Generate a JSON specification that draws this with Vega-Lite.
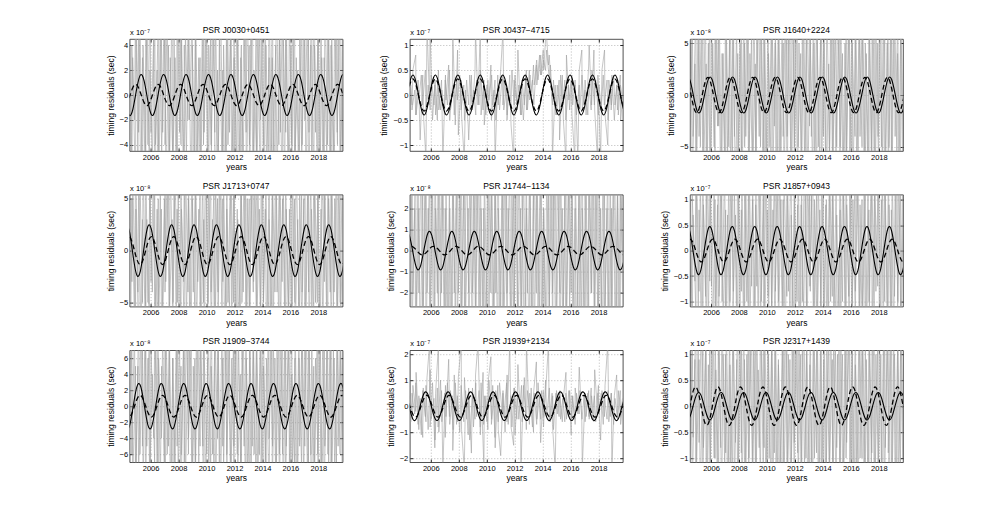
{
"$schema": "https://vega.github.io/schema/vega-lite/v6.json",
"autosize": {"type": "none"},
"padding": {"left": 129.6, "top": 39, "right": 867.4, "bottom": 481},
"background": "white",
"config": {
 "font": "Liberation Sans",
 "view": {"stroke": "#262626", "strokeWidth": 0.8},
 "axis": {"labelFont": "Liberation Sans", "titleFont": "Liberation Sans", "labelFontSize": 7.5, "titleFontSize": 8.5, "titleFontWeight": "normal", "labelColor": "#000", "titleColor": "#000", "tickColor": "#262626", "tickSize": -3, "domain": false, "grid": true, "gridColor": "#8a8a8a", "gridDash": [1, 2], "gridWidth": 0.6, "labelPadding": 5, "labelOverlap": false, "labelFlush": false},
 "axisX": {"titlePadding": 2},
 "axisY": {"titlePadding": 4},
 "line": {"clip": true},
 "title": {"font": "Liberation Sans", "fontSize": 8.5, "fontWeight": "normal", "color": "#000", "offset": -6, "anchor": "middle", "frame": "group"}
},
"datasets": {
"sin": [
{"x":2004.2,"s1":-0.47,"d1":-0.82,"s2":-0.18,"d2":-0.14,"s3":1.51,"d3":1.69,"s4":2.32,"d4":0.77,"s5":0.85,"d5":0,"s6":0.43,"d6":0.08,"s7":-2.33,"d7":-0.77,"s8":0.44,"d8":0.39,"s9":-0.24,"d9":-0.34},
{"x":2004.468,"s1":-1.61,"d1":-0.2,"s2":0.22,"d2":0.18,"s3":1.52,"d3":0.67,"s4":1.97,"d4":1.34,"s5":0.72,"d5":0.18,"s6":0.39,"d6":0.22,"s7":-2.59,"d7":-1.35,"s8":-0.07,"d8":0.05,"s9":-0.22,"d9":-0.04},
{"x":2004.735,"s1":-1.13,"d1":0.61,"s2":0.4,"d2":0.32,"s3":0.01,"d3":-1.02,"s4":-0.35,"d4":0.57,"s5":-0.13,"d5":0.17,"s6":-0.04,"d6":0.14,"s7":-0.26,"d7":-0.58,"s8":-0.51,"d8":-0.33,"s9":0.02,"d9":0.3},
{"x":2005.003,"s1":0.47,"d1":0.82,"s2":0.18,"d2":0.14,"s3":-1.51,"d3":-1.69,"s4":-2.32,"d4":-0.77,"s5":-0.85,"d5":0,"s6":-0.43,"d6":-0.08,"s7":2.33,"d7":0.77,"s8":-0.44,"d8":-0.39,"s9":0.24,"d9":0.34},
{"x":2005.27,"s1":1.61,"d1":0.2,"s2":-0.22,"d2":-0.18,"s3":-1.52,"d3":-0.67,"s4":-1.97,"d4":-1.34,"s5":-0.72,"d5":-0.18,"s6":-0.39,"d6":-0.22,"s7":2.59,"d7":1.35,"s8":0.07,"d8":-0.05,"s9":0.22,"d9":0.04},
{"x":2005.538,"s1":1.13,"d1":-0.61,"s2":-0.4,"d2":-0.32,"s3":-0.01,"d3":1.02,"s4":0.35,"d4":-0.57,"s5":0.13,"d5":-0.17,"s6":0.04,"d6":-0.14,"s7":0.26,"d7":0.58,"s8":0.51,"d8":0.33,"s9":-0.02,"d9":-0.3},
{"x":2005.805,"s1":-0.47,"d1":-0.82,"s2":-0.18,"d2":-0.14,"s3":1.51,"d3":1.69,"s4":2.32,"d4":0.77,"s5":0.85,"d5":0,"s6":0.43,"d6":0.08,"s7":-2.33,"d7":-0.77,"s8":0.44,"d8":0.39,"s9":-0.24,"d9":-0.34},
{"x":2006.073,"s1":-1.61,"d1":-0.2,"s2":0.22,"d2":0.18,"s3":1.52,"d3":0.67,"s4":1.97,"d4":1.34,"s5":0.72,"d5":0.18,"s6":0.39,"d6":0.22,"s7":-2.59,"d7":-1.35,"s8":-0.07,"d8":0.05,"s9":-0.22,"d9":-0.04},
{"x":2006.34,"s1":-1.13,"d1":0.61,"s2":0.4,"d2":0.32,"s3":0.01,"d3":-1.02,"s4":-0.35,"d4":0.57,"s5":-0.13,"d5":0.17,"s6":-0.04,"d6":0.14,"s7":-0.26,"d7":-0.58,"s8":-0.51,"d8":-0.33,"s9":0.02,"d9":0.3},
{"x":2006.608,"s1":0.47,"d1":0.82,"s2":0.18,"d2":0.14,"s3":-1.51,"d3":-1.69,"s4":-2.32,"d4":-0.77,"s5":-0.85,"d5":0,"s6":-0.43,"d6":-0.08,"s7":2.33,"d7":0.77,"s8":-0.44,"d8":-0.39,"s9":0.24,"d9":0.34},
{"x":2006.875,"s1":1.61,"d1":0.2,"s2":-0.22,"d2":-0.18,"s3":-1.52,"d3":-0.67,"s4":-1.97,"d4":-1.34,"s5":-0.72,"d5":-0.18,"s6":-0.39,"d6":-0.22,"s7":2.59,"d7":1.35,"s8":0.07,"d8":-0.05,"s9":0.22,"d9":0.04},
{"x":2007.143,"s1":1.13,"d1":-0.61,"s2":-0.4,"d2":-0.32,"s3":-0.01,"d3":1.02,"s4":0.35,"d4":-0.57,"s5":0.13,"d5":-0.17,"s6":0.04,"d6":-0.14,"s7":0.26,"d7":0.58,"s8":0.51,"d8":0.33,"s9":-0.02,"d9":-0.3},
{"x":2007.41,"s1":-0.47,"d1":-0.82,"s2":-0.18,"d2":-0.14,"s3":1.51,"d3":1.69,"s4":2.32,"d4":0.77,"s5":0.85,"d5":0,"s6":0.43,"d6":0.08,"s7":-2.33,"d7":-0.77,"s8":0.44,"d8":0.39,"s9":-0.24,"d9":-0.34},
{"x":2007.678,"s1":-1.61,"d1":-0.2,"s2":0.22,"d2":0.18,"s3":1.52,"d3":0.67,"s4":1.97,"d4":1.34,"s5":0.72,"d5":0.18,"s6":0.39,"d6":0.22,"s7":-2.59,"d7":-1.35,"s8":-0.07,"d8":0.05,"s9":-0.22,"d9":-0.04},
{"x":2007.945,"s1":-1.13,"d1":0.61,"s2":0.4,"d2":0.32,"s3":0.01,"d3":-1.02,"s4":-0.35,"d4":0.57,"s5":-0.13,"d5":0.17,"s6":-0.04,"d6":0.14,"s7":-0.26,"d7":-0.58,"s8":-0.51,"d8":-0.33,"s9":0.02,"d9":0.3},
{"x":2008.213,"s1":0.47,"d1":0.82,"s2":0.18,"d2":0.14,"s3":-1.51,"d3":-1.69,"s4":-2.32,"d4":-0.77,"s5":-0.85,"d5":0,"s6":-0.43,"d6":-0.08,"s7":2.33,"d7":0.77,"s8":-0.44,"d8":-0.39,"s9":0.24,"d9":0.34},
{"x":2008.48,"s1":1.61,"d1":0.2,"s2":-0.22,"d2":-0.18,"s3":-1.52,"d3":-0.67,"s4":-1.97,"d4":-1.34,"s5":-0.72,"d5":-0.18,"s6":-0.39,"d6":-0.22,"s7":2.59,"d7":1.35,"s8":0.07,"d8":-0.05,"s9":0.22,"d9":0.04},
{"x":2008.748,"s1":1.13,"d1":-0.61,"s2":-0.4,"d2":-0.32,"s3":-0.01,"d3":1.02,"s4":0.35,"d4":-0.57,"s5":0.13,"d5":-0.17,"s6":0.04,"d6":-0.14,"s7":0.26,"d7":0.58,"s8":0.51,"d8":0.33,"s9":-0.02,"d9":-0.3},
{"x":2009.015,"s1":-0.47,"d1":-0.82,"s2":-0.18,"d2":-0.14,"s3":1.51,"d3":1.69,"s4":2.32,"d4":0.77,"s5":0.85,"d5":0,"s6":0.43,"d6":0.08,"s7":-2.33,"d7":-0.77,"s8":0.44,"d8":0.39,"s9":-0.24,"d9":-0.34},
{"x":2009.283,"s1":-1.61,"d1":-0.2,"s2":0.22,"d2":0.18,"s3":1.52,"d3":0.67,"s4":1.97,"d4":1.34,"s5":0.72,"d5":0.18,"s6":0.39,"d6":0.22,"s7":-2.59,"d7":-1.35,"s8":-0.07,"d8":0.05,"s9":-0.22,"d9":-0.04},
{"x":2009.55,"s1":-1.13,"d1":0.61,"s2":0.4,"d2":0.32,"s3":0.01,"d3":-1.02,"s4":-0.35,"d4":0.57,"s5":-0.13,"d5":0.17,"s6":-0.04,"d6":0.14,"s7":-0.26,"d7":-0.58,"s8":-0.51,"d8":-0.33,"s9":0.02,"d9":0.3},
{"x":2009.818,"s1":0.47,"d1":0.82,"s2":0.18,"d2":0.14,"s3":-1.51,"d3":-1.69,"s4":-2.32,"d4":-0.77,"s5":-0.85,"d5":0,"s6":-0.43,"d6":-0.08,"s7":2.33,"d7":0.77,"s8":-0.44,"d8":-0.39,"s9":0.24,"d9":0.34},
{"x":2010.085,"s1":1.61,"d1":0.2,"s2":-0.22,"d2":-0.18,"s3":-1.52,"d3":-0.67,"s4":-1.97,"d4":-1.34,"s5":-0.72,"d5":-0.18,"s6":-0.39,"d6":-0.22,"s7":2.59,"d7":1.35,"s8":0.07,"d8":-0.05,"s9":0.22,"d9":0.04},
{"x":2010.353,"s1":1.13,"d1":-0.61,"s2":-0.4,"d2":-0.32,"s3":-0.01,"d3":1.02,"s4":0.35,"d4":-0.57,"s5":0.13,"d5":-0.17,"s6":0.04,"d6":-0.14,"s7":0.26,"d7":0.58,"s8":0.51,"d8":0.33,"s9":-0.02,"d9":-0.3},
{"x":2010.62,"s1":-0.47,"d1":-0.82,"s2":-0.18,"d2":-0.14,"s3":1.51,"d3":1.69,"s4":2.32,"d4":0.77,"s5":0.85,"d5":0,"s6":0.43,"d6":0.08,"s7":-2.33,"d7":-0.77,"s8":0.44,"d8":0.39,"s9":-0.24,"d9":-0.34},
{"x":2010.888,"s1":-1.61,"d1":-0.2,"s2":0.22,"d2":0.18,"s3":1.52,"d3":0.67,"s4":1.97,"d4":1.34,"s5":0.72,"d5":0.18,"s6":0.39,"d6":0.22,"s7":-2.59,"d7":-1.35,"s8":-0.07,"d8":0.05,"s9":-0.22,"d9":-0.04},
{"x":2011.155,"s1":-1.13,"d1":0.61,"s2":0.4,"d2":0.32,"s3":0.01,"d3":-1.02,"s4":-0.35,"d4":0.57,"s5":-0.13,"d5":0.17,"s6":-0.04,"d6":0.14,"s7":-0.26,"d7":-0.58,"s8":-0.51,"d8":-0.33,"s9":0.02,"d9":0.3},
{"x":2011.423,"s1":0.47,"d1":0.82,"s2":0.18,"d2":0.14,"s3":-1.51,"d3":-1.69,"s4":-2.32,"d4":-0.77,"s5":-0.85,"d5":0,"s6":-0.43,"d6":-0.08,"s7":2.33,"d7":0.77,"s8":-0.44,"d8":-0.39,"s9":0.24,"d9":0.34},
{"x":2011.69,"s1":1.61,"d1":0.2,"s2":-0.22,"d2":-0.18,"s3":-1.52,"d3":-0.67,"s4":-1.97,"d4":-1.34,"s5":-0.72,"d5":-0.18,"s6":-0.39,"d6":-0.22,"s7":2.59,"d7":1.35,"s8":0.07,"d8":-0.05,"s9":0.22,"d9":0.04},
{"x":2011.958,"s1":1.13,"d1":-0.61,"s2":-0.4,"d2":-0.32,"s3":-0.01,"d3":1.02,"s4":0.35,"d4":-0.57,"s5":0.13,"d5":-0.17,"s6":0.04,"d6":-0.14,"s7":0.26,"d7":0.58,"s8":0.51,"d8":0.33,"s9":-0.02,"d9":-0.3},
{"x":2012.225,"s1":-0.47,"d1":-0.82,"s2":-0.18,"d2":-0.14,"s3":1.51,"d3":1.69,"s4":2.32,"d4":0.77,"s5":0.85,"d5":0,"s6":0.43,"d6":0.08,"s7":-2.33,"d7":-0.77,"s8":0.44,"d8":0.39,"s9":-0.24,"d9":-0.34},
{"x":2012.493,"s1":-1.61,"d1":-0.2,"s2":0.22,"d2":0.18,"s3":1.52,"d3":0.67,"s4":1.97,"d4":1.34,"s5":0.72,"d5":0.18,"s6":0.39,"d6":0.22,"s7":-2.59,"d7":-1.35,"s8":-0.07,"d8":0.05,"s9":-0.22,"d9":-0.04},
{"x":2012.76,"s1":-1.13,"d1":0.61,"s2":0.4,"d2":0.32,"s3":0.01,"d3":-1.02,"s4":-0.35,"d4":0.57,"s5":-0.13,"d5":0.17,"s6":-0.04,"d6":0.14,"s7":-0.26,"d7":-0.58,"s8":-0.51,"d8":-0.33,"s9":0.02,"d9":0.3},
{"x":2013.028,"s1":0.47,"d1":0.82,"s2":0.18,"d2":0.14,"s3":-1.51,"d3":-1.69,"s4":-2.32,"d4":-0.77,"s5":-0.85,"d5":0,"s6":-0.43,"d6":-0.08,"s7":2.33,"d7":0.77,"s8":-0.44,"d8":-0.39,"s9":0.24,"d9":0.34},
{"x":2013.295,"s1":1.61,"d1":0.2,"s2":-0.22,"d2":-0.18,"s3":-1.52,"d3":-0.67,"s4":-1.97,"d4":-1.34,"s5":-0.72,"d5":-0.18,"s6":-0.39,"d6":-0.22,"s7":2.59,"d7":1.35,"s8":0.07,"d8":-0.05,"s9":0.22,"d9":0.04},
{"x":2013.563,"s1":1.13,"d1":-0.61,"s2":-0.4,"d2":-0.32,"s3":-0.01,"d3":1.02,"s4":0.35,"d4":-0.57,"s5":0.13,"d5":-0.17,"s6":0.04,"d6":-0.14,"s7":0.26,"d7":0.58,"s8":0.51,"d8":0.33,"s9":-0.02,"d9":-0.3},
{"x":2013.83,"s1":-0.47,"d1":-0.82,"s2":-0.18,"d2":-0.14,"s3":1.51,"d3":1.69,"s4":2.32,"d4":0.77,"s5":0.85,"d5":0,"s6":0.43,"d6":0.08,"s7":-2.33,"d7":-0.77,"s8":0.44,"d8":0.39,"s9":-0.24,"d9":-0.34},
{"x":2014.098,"s1":-1.61,"d1":-0.2,"s2":0.22,"d2":0.18,"s3":1.52,"d3":0.67,"s4":1.97,"d4":1.34,"s5":0.72,"d5":0.18,"s6":0.39,"d6":0.22,"s7":-2.59,"d7":-1.35,"s8":-0.07,"d8":0.05,"s9":-0.22,"d9":-0.04},
{"x":2014.365,"s1":-1.13,"d1":0.61,"s2":0.4,"d2":0.32,"s3":0.01,"d3":-1.02,"s4":-0.35,"d4":0.57,"s5":-0.13,"d5":0.17,"s6":-0.04,"d6":0.14,"s7":-0.26,"d7":-0.58,"s8":-0.51,"d8":-0.33,"s9":0.02,"d9":0.3},
{"x":2014.633,"s1":0.47,"d1":0.82,"s2":0.18,"d2":0.14,"s3":-1.51,"d3":-1.69,"s4":-2.32,"d4":-0.77,"s5":-0.85,"d5":0,"s6":-0.43,"d6":-0.08,"s7":2.33,"d7":0.77,"s8":-0.44,"d8":-0.39,"s9":0.24,"d9":0.34},
{"x":2014.9,"s1":1.61,"d1":0.2,"s2":-0.22,"d2":-0.18,"s3":-1.52,"d3":-0.67,"s4":-1.97,"d4":-1.34,"s5":-0.72,"d5":-0.18,"s6":-0.39,"d6":-0.22,"s7":2.59,"d7":1.35,"s8":0.07,"d8":-0.05,"s9":0.22,"d9":0.04},
{"x":2015.168,"s1":1.13,"d1":-0.61,"s2":-0.4,"d2":-0.32,"s3":-0.01,"d3":1.02,"s4":0.35,"d4":-0.57,"s5":0.13,"d5":-0.17,"s6":0.04,"d6":-0.14,"s7":0.26,"d7":0.58,"s8":0.51,"d8":0.33,"s9":-0.02,"d9":-0.3},
{"x":2015.435,"s1":-0.47,"d1":-0.82,"s2":-0.18,"d2":-0.14,"s3":1.51,"d3":1.69,"s4":2.32,"d4":0.77,"s5":0.85,"d5":0,"s6":0.43,"d6":0.08,"s7":-2.33,"d7":-0.77,"s8":0.44,"d8":0.39,"s9":-0.24,"d9":-0.34},
{"x":2015.703,"s1":-1.61,"d1":-0.2,"s2":0.22,"d2":0.18,"s3":1.52,"d3":0.67,"s4":1.97,"d4":1.34,"s5":0.72,"d5":0.18,"s6":0.39,"d6":0.22,"s7":-2.59,"d7":-1.35,"s8":-0.07,"d8":0.05,"s9":-0.22,"d9":-0.04},
{"x":2015.97,"s1":-1.13,"d1":0.61,"s2":0.4,"d2":0.32,"s3":0.01,"d3":-1.02,"s4":-0.35,"d4":0.57,"s5":-0.13,"d5":0.17,"s6":-0.04,"d6":0.14,"s7":-0.26,"d7":-0.58,"s8":-0.51,"d8":-0.33,"s9":0.02,"d9":0.3},
{"x":2016.238,"s1":0.47,"d1":0.82,"s2":0.18,"d2":0.14,"s3":-1.51,"d3":-1.69,"s4":-2.32,"d4":-0.77,"s5":-0.85,"d5":0,"s6":-0.43,"d6":-0.08,"s7":2.33,"d7":0.77,"s8":-0.44,"d8":-0.39,"s9":0.24,"d9":0.34},
{"x":2016.505,"s1":1.61,"d1":0.2,"s2":-0.22,"d2":-0.18,"s3":-1.52,"d3":-0.67,"s4":-1.97,"d4":-1.34,"s5":-0.72,"d5":-0.18,"s6":-0.39,"d6":-0.22,"s7":2.59,"d7":1.35,"s8":0.07,"d8":-0.05,"s9":0.22,"d9":0.04},
{"x":2016.773,"s1":1.13,"d1":-0.61,"s2":-0.4,"d2":-0.32,"s3":-0.01,"d3":1.02,"s4":0.35,"d4":-0.57,"s5":0.13,"d5":-0.17,"s6":0.04,"d6":-0.14,"s7":0.26,"d7":0.58,"s8":0.51,"d8":0.33,"s9":-0.02,"d9":-0.3},
{"x":2017.04,"s1":-0.47,"d1":-0.82,"s2":-0.18,"d2":-0.14,"s3":1.51,"d3":1.69,"s4":2.32,"d4":0.77,"s5":0.85,"d5":0,"s6":0.43,"d6":0.08,"s7":-2.33,"d7":-0.77,"s8":0.44,"d8":0.39,"s9":-0.24,"d9":-0.34},
{"x":2017.308,"s1":-1.61,"d1":-0.2,"s2":0.22,"d2":0.18,"s3":1.52,"d3":0.67,"s4":1.97,"d4":1.34,"s5":0.72,"d5":0.18,"s6":0.39,"d6":0.22,"s7":-2.59,"d7":-1.35,"s8":-0.07,"d8":0.05,"s9":-0.22,"d9":-0.04},
{"x":2017.575,"s1":-1.13,"d1":0.61,"s2":0.4,"d2":0.32,"s3":0.01,"d3":-1.02,"s4":-0.35,"d4":0.57,"s5":-0.13,"d5":0.17,"s6":-0.04,"d6":0.14,"s7":-0.26,"d7":-0.58,"s8":-0.51,"d8":-0.33,"s9":0.02,"d9":0.3},
{"x":2017.843,"s1":0.47,"d1":0.82,"s2":0.18,"d2":0.14,"s3":-1.51,"d3":-1.69,"s4":-2.32,"d4":-0.77,"s5":-0.85,"d5":0,"s6":-0.43,"d6":-0.08,"s7":2.33,"d7":0.77,"s8":-0.44,"d8":-0.39,"s9":0.24,"d9":0.34},
{"x":2018.11,"s1":1.61,"d1":0.2,"s2":-0.22,"d2":-0.18,"s3":-1.52,"d3":-0.67,"s4":-1.97,"d4":-1.34,"s5":-0.72,"d5":-0.18,"s6":-0.39,"d6":-0.22,"s7":2.59,"d7":1.35,"s8":0.07,"d8":-0.05,"s9":0.22,"d9":0.04},
{"x":2018.378,"s1":1.13,"d1":-0.61,"s2":-0.4,"d2":-0.32,"s3":-0.01,"d3":1.02,"s4":0.35,"d4":-0.57,"s5":0.13,"d5":-0.17,"s6":0.04,"d6":-0.14,"s7":0.26,"d7":0.58,"s8":0.51,"d8":0.33,"s9":-0.02,"d9":-0.3},
{"x":2018.645,"s1":-0.47,"d1":-0.82,"s2":-0.18,"d2":-0.14,"s3":1.51,"d3":1.69,"s4":2.32,"d4":0.77,"s5":0.85,"d5":0,"s6":0.43,"d6":0.08,"s7":-2.33,"d7":-0.77,"s8":0.44,"d8":0.39,"s9":-0.24,"d9":-0.34},
{"x":2018.913,"s1":-1.61,"d1":-0.2,"s2":0.22,"d2":0.18,"s3":1.52,"d3":0.67,"s4":1.97,"d4":1.34,"s5":0.72,"d5":0.18,"s6":0.39,"d6":0.22,"s7":-2.59,"d7":-1.35,"s8":-0.07,"d8":0.05,"s9":-0.22,"d9":-0.04},
{"x":2019.18,"s1":-1.13,"d1":0.61,"s2":0.4,"d2":0.32,"s3":0.01,"d3":-1.02,"s4":-0.35,"d4":0.57,"s5":-0.13,"d5":0.17,"s6":-0.04,"d6":0.14,"s7":-0.26,"d7":-0.58,"s8":-0.51,"d8":-0.33,"s9":0.02,"d9":0.3},
{"x":2019.448,"s1":0.47,"d1":0.82,"s2":0.18,"d2":0.14,"s3":-1.51,"d3":-1.69,"s4":-2.32,"d4":-0.77,"s5":-0.85,"d5":0,"s6":-0.43,"d6":-0.08,"s7":2.33,"d7":0.77,"s8":-0.44,"d8":-0.39,"s9":0.24,"d9":0.34},
{"x":2019.715,"s1":1.61,"d1":0.2,"s2":-0.22,"d2":-0.18,"s3":-1.52,"d3":-0.67,"s4":-1.97,"d4":-1.34,"s5":-0.72,"d5":-0.18,"s6":-0.39,"d6":-0.22,"s7":2.59,"d7":1.35,"s8":0.07,"d8":-0.05,"s9":0.22,"d9":0.04},
{"x":2019.983,"s1":1.13,"d1":-0.61,"s2":-0.4,"d2":-0.32,"s3":-0.01,"d3":1.02,"s4":0.35,"d4":-0.57,"s5":0.13,"d5":-0.17,"s6":0.04,"d6":-0.14,"s7":0.26,"d7":0.58,"s8":0.51,"d8":0.33,"s9":-0.02,"d9":-0.3}
],
"noise": [
{"x":2004.5,"n1":5,"n2":0.3,"n3":-7,"n4":6,"n5":-3,"n6":1.2,"n7":-4,"n8":0.4,"n9":-1.5},
{"x":2004.665,"n1":-6,"n2":-0.2,"n3":8,"n4":-3,"n5":4,"n6":-1.6,"n7":9,"n8":-0.5,"n9":1.2},
{"x":2004.72,"n1":3,"n2":0.5,"n3":-4,"n4":8,"n5":-2,"n6":0.7,"n7":-10,"n8":0.8,"n9":-0.6},
{"x":2004.925,"n1":-8,"n2":0.8,"n3":9,"n4":-7,"n5":5,"n6":-1.3,"n7":5,"n8":-0.2,"n9":1.8},
{"x":2004.95,"n1":7,"n2":-0.4,"n3":-9,"n4":4,"n5":-4,"n6":1.8,"n7":-8,"n8":1.3,"n9":-1.4},
{"x":2005.145,"n1":-3,"n2":0.1,"n3":6,"n4":-9,"n5":2,"n6":-0.8,"n7":11,"n8":-0.9,"n9":0.9},
{"x":2005.24,"n1":6,"n2":-0.9,"n3":-5,"n4":7,"n5":-5,"n6":1.4,"n7":-6,"n8":0.3,"n9":-1.9},
{"x":2005.425,"n1":-9,"n2":0.4,"n3":10,"n4":-5,"n5":3,"n6":-1.9,"n7":7,"n8":-1.2,"n9":1.3},
{"x":2005.46,"n1":4,"n2":-0.3,"n3":-8,"n4":9,"n5":-3,"n6":0.9,"n7":-11,"n8":0.7,"n9":-0.8},
{"x":2005.655,"n1":-5,"n2":-1.3,"n3":3,"n4":-6,"n5":5,"n6":-1.1,"n7":9,"n8":-0.6,"n9":1.6},
{"x":2005.73,"n1":8,"n2":1.4,"n3":-7,"n4":3,"n5":-2,"n6":1.7,"n7":-5,"n8":1.1,"n9":-1.7},
{"x":2005.915,"n1":-7,"n2":-0.2,"n3":9,"n4":-8,"n5":4,"n6":-0.6,"n7":10,"n8":2.4,"n9":1.1},
{"x":2005.95,"n1":2,"n2":1.3,"n3":-10,"n4":6,"n5":-5,"n6":1.3,"n7":-9,"n8":-0.8,"n9":-1.2},
{"x":2006.125,"n1":-6,"n2":-0.5,"n3":5,"n4":-4,"n5":3,"n6":-1.7,"n7":4,"n8":0.9,"n9":1.9},
{"x":2006.29,"n1":9,"n2":0.2,"n3":-6,"n4":8,"n5":-4,"n6":1.0,"n7":-7,"n8":-1.6,"n9":-1.0},
{"x":2006.345,"n1":-4,"n2":-0.4,"n3":8,"n4":-9,"n5":2,"n6":-1.4,"n7":12,"n8":0.5,"n9":0.7},
{"x":2006.55,"n1":6,"n2":0.5,"n3":-3,"n4":5,"n5":-3,"n6":1.9,"n7":-10,"n8":2.4,"n9":-1.5},
{"x":2006.575,"n1":-8,"n2":-0.3,"n3":9,"n4":-7,"n5":5,"n6":-0.9,"n7":6,"n8":-1.0,"n9":1.4},
{"x":2006.77,"n1":5,"n2":0.3,"n3":-8,"n4":4,"n5":-2,"n6":1.2,"n7":-4,"n8":0.6,"n9":-1.8},
{"x":2006.865,"n1":-3,"n2":-1.3,"n3":4,"n4":-8,"n5":4,"n6":-1.5,"n7":9,"n8":-2.4,"n9":1.0},
{"x":2007.05,"n1":7,"n2":0.4,"n3":-9,"n4":9,"n5":-5,"n6":0.8,"n7":-8,"n8":0.8,"n9":-0.9},
{"x":2007.085,"n1":-9,"n2":-0.1,"n3":7,"n4":-3,"n5":3,"n6":-1.8,"n7":11,"n8":-0.4,"n9":1.7},
{"x":2007.28,"n1":4,"n2":0.6,"n3":-5,"n4":7,"n5":-4,"n6":1.5,"n7":-5,"n8":1.8,"n9":-1.3},
{"x":2007.355,"n1":-5,"n2":-0.5,"n3":10,"n4":-6,"n5":2,"n6":-1.0,"n7":8,"n8":-0.7,"n9":0.8},
{"x":2007.54,"n1":8,"n2":0.2,"n3":-7,"n4":3,"n5":-5,"n6":1.7,"n7":-12,"n8":0.4,"n9":-1.6},
{"x":2007.575,"n1":-7,"n2":1.3,"n3":6,"n4":-9,"n5":4,"n6":-1.2,"n7":6,"n8":-1.7,"n9":1.5},
{"x":2007.75,"n1":3,"n2":-0.6,"n3":-9,"n4":8,"n5":-3,"n6":0.7,"n7":-7,"n8":0.9,"n9":-0.7},
{"x":2007.915,"n1":-6,"n2":0.9,"n3":4,"n4":-5,"n5":5,"n6":-1.9,"n7":10,"n8":-0.6,"n9":1.9},
{"x":2007.97,"n1":9,"n2":-0.8,"n3":-6,"n4":6,"n5":-2,"n6":1.3,"n7":-9,"n8":1.1,"n9":-1.1},
{"x":2008.175,"n1":-4,"n2":0.3,"n3":8,"n4":-8,"n5":3,"n6":-0.8,"n7":5,"n8":2.4,"n9":1.2},
{"x":2008.2,"n1":6,"n2":-0.4,"n3":-10,"n4":4,"n5":-4,"n6":1.6,"n7":-6,"n8":-0.9,"n9":-1.9},
{"x":2008.395,"n1":-8,"n2":-1.3,"n3":5,"n4":-7,"n5":5,"n6":-1.6,"n7":12,"n8":-2.4,"n9":0.9},
{"x":2008.49,"n1":5,"n2":0.1,"n3":-4,"n4":9,"n5":-3,"n6":1.1,"n7":-10,"n8":0.6,"n9":-1.4},
{"x":2008.675,"n1":-2,"n2":-0.6,"n3":9,"n4":-4,"n5":2,"n6":-1.3,"n7":7,"n8":-1.1,"n9":1.6},
{"x":2008.71,"n1":7,"n2":-0.9,"n3":-7,"n4":7,"n5":-5,"n6":1.8,"n7":-4,"n8":0.5,"n9":-1.0},
{"x":2008.905,"n1":-9,"n2":0.4,"n3":6,"n4":-9,"n5":4,"n6":-0.7,"n7":9,"n8":-1.8,"n9":1.8},
{"x":2008.98,"n1":4,"n2":-0.3,"n3":-8,"n4":5,"n5":-2,"n6":1.4,"n7":-11,"n8":0.7,"n9":-1.2},
{"x":2009.165,"n1":-6,"n2":0.5,"n3":3,"n4":-6,"n5":3,"n6":-1.9,"n7":6,"n8":-0.5,"n9":1.1},
{"x":2009.2,"n1":8,"n2":1.3,"n3":-9,"n4":8,"n5":-4,"n6":0.9,"n7":-8,"n8":1.2,"n9":-1.7},
{"x":2009.375,"n1":-5,"n2":-0.2,"n3":10,"n4":-3,"n5":5,"n6":-1.2,"n7":10,"n8":2.4,"n9":0.7},
{"x":2009.54,"n1":3,"n2":1.3,"n3":-5,"n4":6,"n5":-3,"n6":1.7,"n7":-5,"n8":-0.8,"n9":-1.5},
{"x":2009.595,"n1":-7,"n2":-0.4,"n3":7,"n4":-8,"n5":2,"n6":-1.0,"n7":8,"n8":0.9,"n9":1.4},
{"x":2009.8,"n1":9,"n2":0.3,"n3":-6,"n4":3,"n5":-5,"n6":1.2,"n7":-12,"n8":-2.4,"n9":-0.8},
{"x":2009.825,"n1":-3,"n2":-0.6,"n3":8,"n4":-9,"n5":4,"n6":-1.7,"n7":7,"n8":0.4,"n9":1.9},
{"x":2010.02,"n1":6,"n2":0.2,"n3":-10,"n4":7,"n5":-3,"n6":0.8,"n7":-6,"n8":-0.6,"n9":-1.3},
{"x":2010.115,"n1":-8,"n2":-0.3,"n3":4,"n4":-5,"n5":5,"n6":-1.4,"n7":11,"n8":1.0,"n9":1.0},
{"x":2010.3,"n1":5,"n2":0.6,"n3":-7,"n4":9,"n5":-2,"n6":1.9,"n7":-9,"n8":1.9,"n9":-1.8},
{"x":2010.335,"n1":-4,"n2":-0.5,"n3":9,"n4":-4,"n5":4,"n6":-1.1,"n7":5,"n8":-0.7,"n9":1.3},
{"x":2010.53,"n1":7,"n2":0.1,"n3":-3,"n4":6,"n5":-4,"n6":1.5,"n7":-7,"n8":0.5,"n9":-0.9},
{"x":2010.605,"n1":-9,"n2":-1.3,"n3":6,"n4":-8,"n5":3,"n6":-0.8,"n7":10,"n8":-1.6,"n9":1.6},
{"x":2010.79,"n1":2,"n2":0.4,"n3":-8,"n4":5,"n5":-5,"n6":1.3,"n7":-4,"n8":0.8,"n9":-1.6},
{"x":2010.825,"n1":-6,"n2":-0.2,"n3":10,"n4":-7,"n5":2,"n6":-1.8,"n7":9,"n8":-0.9,"n9":0.8},
{"x":2011.0,"n1":8,"n2":0.5,"n3":-6,"n4":8,"n5":-3,"n6":1.0,"n7":-11,"n8":-1.9,"n9":-1.1},
{"x":2011.165,"n1":-5,"n2":1.3,"n3":5,"n4":-3,"n5":5,"n6":-1.5,"n7":6,"n8":0.6,"n9":1.7},
{"x":2011.22,"n1":4,"n2":-0.3,"n3":-9,"n4":7,"n5":-4,"n6":1.6,"n7":-8,"n8":-0.4,"n9":-1.4},
{"x":2011.425,"n1":-7,"n2":0.2,"n3":7,"n4":-9,"n5":3,"n6":-0.9,"n7":12,"n8":0.9,"n9":1.2},
{"x":2011.45,"n1":9,"n2":-0.5,"n3":-4,"n4":4,"n5":-2,"n6":1.8,"n7":-6,"n8":-0.6,"n9":-1.9},
{"x":2011.645,"n1":-3,"n2":0.4,"n3":8,"n4":-6,"n5":4,"n6":-1.3,"n7":7,"n8":2.4,"n9":0.9},
{"x":2011.74,"n1":6,"n2":-0.6,"n3":-10,"n4":9,"n5":-5,"n6":0.7,"n7":-10,"n8":-0.8,"n9":-1.2},
{"x":2011.925,"n1":-8,"n2":-1.3,"n3":6,"n4":-5,"n5":3,"n6":-1.9,"n7":8,"n8":-1.5,"n9":1.5},
{"x":2011.96,"n1":5,"n2":0.3,"n3":-7,"n4":6,"n5":-3,"n6":1.4,"n7":-5,"n8":0.7,"n9":-0.7},
{"x":2012.155,"n1":-6,"n2":-0.2,"n3":9,"n4":-8,"n5":5,"n6":-1.0,"n7":11,"n8":-0.5,"n9":1.8},
{"x":2012.23,"n1":7,"n2":0.9,"n3":-5,"n4":3,"n5":-4,"n6":1.7,"n7":-9,"n8":1.6,"n9":-1.5},
{"x":2012.415,"n1":-9,"n2":-0.4,"n3":4,"n4":-7,"n5":2,"n6":-1.6,"n7":4,"n8":-0.6,"n9":1.0},
{"x":2012.45,"n1":3,"n2":0.2,"n3":-9,"n4":8,"n5":-5,"n6":0.9,"n7":-7,"n8":-2.4,"n9":-1.3},
{"x":2012.625,"n1":-5,"n2":-0.5,"n3":8,"n4":-4,"n5":4,"n6":-1.2,"n7":10,"n8":0.8,"n9":1.9},
{"x":2012.79,"n1":8,"n2":0.4,"n3":-6,"n4":7,"n5":-3,"n6":1.5,"n7":-12,"n8":-0.3,"n9":-1.0},
{"x":2012.845,"n1":-7,"n2":-0.3,"n3":10,"n4":-9,"n5":2,"n6":-1.8,"n7":6,"n8":2.4,"n9":1.4},
{"x":2013.05,"n1":4,"n2":0.5,"n3":-3,"n4":5,"n5":-5,"n6":1.1,"n7":-8,"n8":-0.7,"n9":-1.7},
{"x":2013.075,"n1":-4,"n2":-0.1,"n3":7,"n4":-6,"n5":3,"n6":-0.7,"n7":9,"n8":0.5,"n9":0.8},
{"x":2013.27,"n1":9,"n2":0.3,"n3":-8,"n4":9,"n5":-4,"n6":1.9,"n7":-5,"n8":-0.8,"n9":-1.6},
{"x":2013.365,"n1":-6,"n2":-0.2,"n3":5,"n4":-3,"n5":5,"n6":-1.4,"n7":7,"n8":0.6,"n9":1.3},
{"x":2013.55,"n1":5,"n2":0.6,"n3":-10,"n4":6,"n5":-2,"n6":1.2,"n7":-11,"n8":1.7,"n9":-0.9},
{"x":2013.585,"n1":-8,"n2":0.2,"n3":6,"n4":-8,"n5":4,"n6":-1.7,"n7":8,"n8":-0.5,"n9":1.6},
{"x":2013.78,"n1":6,"n2":0.8,"n3":-7,"n4":4,"n5":-3,"n6":0.8,"n7":-6,"n8":0.4,"n9":-1.4},
{"x":2013.855,"n1":-2,"n2":0.4,"n3":9,"n4":-7,"n5":5,"n6":-1.1,"n7":12,"n8":-1.4,"n9":1.1},
{"x":2014.04,"n1":7,"n2":0.9,"n3":-4,"n4":8,"n5":-4,"n6":1.6,"n7":-9,"n8":0.6,"n9":-1.8},
{"x":2014.075,"n1":-9,"n2":0.5,"n3":8,"n4":-5,"n5":2,"n6":-1.9,"n7":5,"n8":-0.4,"n9":1.7},
{"x":2014.25,"n1":4,"n2":1.3,"n3":-9,"n4":7,"n5":-5,"n6":1.0,"n7":-7,"n8":0.9,"n9":-1.1},
{"x":2014.415,"n1":-5,"n2":0.6,"n3":3,"n4":-9,"n5":3,"n6":-1.3,"n7":10,"n8":2.4,"n9":1.5},
{"x":2014.47,"n1":8,"n2":0.8,"n3":-6,"n4":3,"n5":-3,"n6":1.8,"n7":-4,"n8":-0.6,"n9":-1.2},
{"x":2014.675,"n1":-6,"n2":-0.2,"n3":10,"n4":-6,"n5":5,"n6":-0.9,"n7":9,"n8":0.5,"n9":0.9},
{"x":2014.7,"n1":3,"n2":-1.3,"n3":-8,"n4":8,"n5":-2,"n6":1.3,"n7":-10,"n8":-0.7,"n9":-1.9},
{"x":2014.895,"n1":-7,"n2":0.2,"n3":7,"n4":-4,"n5":4,"n6":-1.6,"n7":6,"n8":-2.4,"n9":1.2},
{"x":2014.99,"n1":9,"n2":-0.4,"n3":-5,"n4":6,"n5":-4,"n6":0.7,"n7":-8,"n8":0.6,"n9":-0.8},
{"x":2015.175,"n1":-4,"n2":0.3,"n3":9,"n4":-8,"n5":3,"n6":-1.5,"n7":11,"n8":-0.4,"n9":1.8},
{"x":2015.21,"n1":6,"n2":-0.9,"n3":-7,"n4":9,"n5":-5,"n6":1.7,"n7":-6,"n8":0.5,"n9":-1.3},
{"x":2015.405,"n1":-8,"n2":0.4,"n3":4,"n4":-3,"n5":2,"n6":-1.0,"n7":7,"n8":-0.6,"n9":1.0},
{"x":2015.48,"n1":5,"n2":-0.5,"n3":-10,"n4":7,"n5":-3,"n6":1.2,"n7":-12,"n8":0.3,"n9":-1.6},
{"x":2015.665,"n1":-3,"n2":-1.3,"n3":6,"n4":-9,"n5":5,"n6":-1.8,"n7":8,"n8":1.3,"n9":1.4},
{"x":2015.7,"n1":7,"n2":0.8,"n3":-6,"n4":4,"n5":-4,"n6":0.9,"n7":-5,"n8":-0.5,"n9":-0.7},
{"x":2015.875,"n1":-9,"n2":-0.1,"n3":8,"n4":-6,"n5":4,"n6":-1.3,"n7":10,"n8":0.6,"n9":1.9},
{"x":2016.04,"n1":4,"n2":0.3,"n3":-9,"n4":8,"n5":-2,"n6":1.9,"n7":-9,"n8":-1.1,"n9":-1.5},
{"x":2016.095,"n1":-6,"n2":-0.4,"n3":5,"n4":-7,"n5":3,"n6":-1.1,"n7":4,"n8":0.4,"n9":1.1},
{"x":2016.3,"n1":8,"n2":-1.3,"n3":-4,"n4":5,"n5":-5,"n6":1.4,"n7":-7,"n8":-0.5,"n9":-1.8},
{"x":2016.325,"n1":-5,"n2":0.2,"n3":10,"n4":-9,"n5":4,"n6":-0.8,"n7":11,"n8":0.7,"n9":0.8},
{"x":2016.52,"n1":2,"n2":-1.3,"n3":-7,"n4":3,"n5":-3,"n6":1.6,"n7":-10,"n8":-0.3,"n9":-1.2},
{"x":2016.615,"n1":-7,"n2":0.5,"n3":7,"n4":-8,"n5":5,"n6":-1.7,"n7":6,"n8":1.5,"n9":1.6},
{"x":2016.8,"n1":9,"n2":0.9,"n3":-5,"n4":6,"n5":-4,"n6":1.0,"n7":-8,"n8":-0.6,"n9":-1.0},
{"x":2016.835,"n1":-4,"n2":-0.3,"n3":9,"n4":-4,"n5":2,"n6":-1.5,"n7":9,"n8":-2.4,"n9":1.7},
{"x":2017.03,"n1":6,"n2":0.1,"n3":-8,"n4":9,"n5":-5,"n6":1.3,"n7":-5,"n8":0.5,"n9":-1.4},
{"x":2017.105,"n1":-8,"n2":-0.4,"n3":4,"n4":-6,"n5":3,"n6":-1.9,"n7":12,"n8":-0.4,"n9":0.9},
{"x":2017.29,"n1":5,"n2":0.6,"n3":-10,"n4":7,"n5":-4,"n6":0.8,"n7":-7,"n8":0.6,"n9":-1.7},
{"x":2017.325,"n1":-3,"n2":1.0,"n3":6,"n4":-9,"n5":5,"n6":-1.2,"n7":8,"n8":-0.5,"n9":1.3},
{"x":2017.5,"n1":7,"n2":-0.2,"n3":-6,"n4":4,"n5":-2,"n6":1.7,"n7":-11,"n8":0.4,"n9":-0.9},
{"x":2017.665,"n1":-9,"n2":0.9,"n3":8,"n4":-7,"n5":4,"n6":-1.4,"n7":5,"n8":-0.6,"n9":1.8},
{"x":2017.72,"n1":4,"n2":-0.3,"n3":-9,"n4":8,"n5":-3,"n6":1.1,"n7":-9,"n8":1.4,"n9":-1.6},
{"x":2017.925,"n1":-6,"n2":-1.3,"n3":5,"n4":-5,"n5":5,"n6":-0.7,"n7":10,"n8":-0.3,"n9":1.2},
{"x":2017.95,"n1":8,"n2":0.4,"n3":-4,"n4":6,"n5":-4,"n6":1.8,"n7":-6,"n8":0.5,"n9":-1.3},
{"x":2018.145,"n1":-5,"n2":-1.3,"n3":9,"n4":-8,"n5":2,"n6":-1.6,"n7":7,"n8":-1.3,"n9":1.0},
{"x":2018.24,"n1":3,"n2":0.5,"n3":-7,"n4":9,"n5":-5,"n6":1.4,"n7":-12,"n8":0.6,"n9":-1.9},
{"x":2018.425,"n1":-7,"n2":0.9,"n3":6,"n4":-3,"n5":3,"n6":-1.0,"n7":9,"n8":-0.4,"n9":1.5},
{"x":2018.46,"n1":9,"n2":-0.4,"n3":-10,"n4":7,"n5":-3,"n6":1.2,"n7":-5,"n8":0.8,"n9":-0.8},
{"x":2018.655,"n1":-4,"n2":-1.0,"n3":8,"n4":-9,"n5":4,"n6":-1.8,"n7":8,"n8":2.4,"n9":1.7},
{"x":2018.73,"n1":6,"n2":0.3,"n3":-5,"n4":5,"n5":-5,"n6":0.9,"n7":-8,"n8":-0.6,"n9":-1.1},
{"x":2018.915,"n1":-8,"n2":-0.2,"n3":7,"n4":-6,"n5":2,"n6":-1.3,"n7":11,"n8":0.5,"n9":1.9},
{"x":2018.95,"n1":5,"n2":0.4,"n3":-8,"n4":8,"n5":-4,"n6":1.6,"n7":-10,"n8":-2.4,"n9":-1.4},
{"x":2019.125,"n1":-6,"n2":-0.5,"n3":10,"n4":-4,"n5":5,"n6":-0.9,"n7":6,"n8":0.4,"n9":1.0},
{"x":2019.29,"n1":7,"n2":0.2,"n3":-6,"n4":9,"n5":-3,"n6":1.9,"n7":-7,"n8":1.2,"n9":-1.6},
{"x":2019.345,"n1":-3,"n2":-0.3,"n3":4,"n4":-7,"n5":3,"n6":-1.2,"n7":9,"n8":-0.5,"n9":1.3},
{"x":2019.55,"n1":8,"n2":0.4,"n3":-9,"n4":6,"n5":-5,"n6":1.5,"n7":-6,"n8":0.6,"n9":-1.2},
{"x":2019.575,"n1":-7,"n2":-0.5,"n3":7,"n4":-8,"n5":4,"n6":-1.7,"n7":10,"n8":-0.7,"n9":1.6},
{"x":2019.77,"n1":5,"n2":0.1,"n3":-5,"n4":4,"n5":-2,"n6":1.0,"n7":-8,"n8":0.3,"n9":-1.0}
],
"noise2": [
{"x":2004.583,"m1":-7,"m2":0.2,"m3":6,"m4":-8,"m5":3,"m6":-1.4,"m7":8,"m8":-0.6,"m9":1.3},
{"x":2004.658,"m1":4,"m2":-0.3,"m3":-9,"m4":5,"m5":-4,"m6":1.1,"m7":-6,"m8":0.5,"m9":-1.7},
{"x":2004.853,"m1":-2,"m2":0.1,"m3":3,"m4":-7,"m5":2,"m6":-0.6,"m7":10,"m8":-0.3,"m9":0.9},
{"x":2004.928,"m1":8,"m2":-0.4,"m3":-7,"m4":9,"m5":-5,"m6":1.7,"m7":-11,"m8":0.9,"m9":-1.2},
{"x":2005.093,"m1":-5,"m2":0.3,"m3":9,"m4":-4,"m5":4,"m6":-1.2,"m7":5,"m8":-0.7,"m9":1.6},
{"x":2005.148,"m1":6,"m2":-0.1,"m3":-4,"m4":6,"m5":-2,"m6":0.8,"m7":-9,"m8":0.4,"m9":-0.7},
{"x":2005.323,"m1":-9,"m2":0.4,"m3":8,"m4":-9,"m5":5,"m6":-1.8,"m7":12,"m8":-1.1,"m9":1.9},
{"x":2005.418,"m1":3,"m2":-0.2,"m3":-6,"m4":3,"m5":-3,"m6":1.3,"m7":-5,"m8":0.6,"m9":-1.4},
{"x":2005.613,"m1":-6,"m2":0.5,"m3":10,"m4":-6,"m5":4,"m6":-0.9,"m7":9,"m8":-0.4,"m9":1.1},
{"x":2005.658,"m1":7,"m2":-0.4,"m3":-8,"m4":8,"m5":-5,"m6":1.6,"m7":-8,"m8":0.8,"m9":-1.8},
{"x":2005.813,"m1":-4,"m2":0.2,"m3":5,"m4":-5,"m5":2,"m6":-1.5,"m7":6,"m8":-0.9,"m9":0.8},
{"x":2005.958,"m1":9,"m2":-0.3,"m3":-10,"m4":7,"m5":-4,"m6":1.9,"m7":-12,"m8":1.4,"m9":-1.5},
{"x":2006.033,"m1":-3,"m2":0.4,"m3":7,"m4":-3,"m5":3,"m6":-0.7,"m7":7,"m8":-0.5,"m9":1.7},
{"x":2006.228,"m1":5,"m2":-0.2,"m3":-5,"m4":9,"m5":-5,"m6":1.2,"m7":-4,"m8":0.3,"m9":-1.0},
{"x":2006.303,"m1":-8,"m2":0.3,"m3":9,"m4":-8,"m5":4,"m6":-1.6,"m7":11,"m8":-1.3,"m9":1.4},
{"x":2006.468,"m1":2,"m2":-0.5,"m3":-3,"m4":4,"m5":-2,"m6":0.9,"m7":-7,"m8":0.7,"m9":-1.9},
{"x":2006.523,"m1":-7,"m2":0.2,"m3":8,"m4":-7,"m5":5,"m6":-1.9,"m7":9,"m8":-0.8,"m9":1.2},
{"x":2006.698,"m1":6,"m2":-0.3,"m3":-9,"m4":6,"m5":-3,"m6":1.4,"m7":-10,"m8":1.0,"m9":-0.8},
{"x":2006.793,"m1":-5,"m2":0.1,"m3":4,"m4":-9,"m5":4,"m6":-1.0,"m7":5,"m8":-0.6,"m9":1.8},
{"x":2006.988,"m1":8,"m2":-0.4,"m3":-7,"m4":5,"m5":-5,"m6":1.8,"m7":-8,"m8":0.5,"m9":-1.3},
{"x":2007.033,"m1":-4,"m2":0.3,"m3":10,"m4":-4,"m5":2,"m6":-1.3,"m7":12,"m8":-1.2,"m9":1.0},
{"x":2007.188,"m1":7,"m2":-0.2,"m3":-6,"m4":8,"m5":-4,"m6":0.7,"m7":-6,"m8":0.9,"m9":-1.6},
{"x":2007.333,"m1":-9,"m2":0.5,"m3":6,"m4":-6,"m5":3,"m6":-1.7,"m7":8,"m8":-0.4,"m9":1.5},
{"x":2007.408,"m1":3,"m2":-0.3,"m3":-8,"m4":9,"m5":-5,"m6":1.5,"m7":-11,"m8":0.6,"m9":-1.1},
{"x":2007.603,"m1":-6,"m2":0.2,"m3":9,"m4":-5,"m5":5,"m6":-0.8,"m7":6,"m8":-0.9,"m9":1.9},
{"x":2007.678,"m1":5,"m2":-0.4,"m3":-4,"m4":7,"m5":-2,"m6":1.2,"m7":-9,"m8":1.2,"m9":-1.7},
{"x":2007.843,"m1":-8,"m2":0.3,"m3":7,"m4":-8,"m5":4,"m6":-1.6,"m7":10,"m8":-0.7,"m9":0.9},
{"x":2007.898,"m1":9,"m2":-0.1,"m3":-10,"m4":4,"m5":-4,"m6":1.9,"m7":-5,"m8":0.4,"m9":-1.4},
{"x":2008.073,"m1":-3,"m2":0.4,"m3":5,"m4":-9,"m5":3,"m6":-1.1,"m7":9,"m8":-1.0,"m9":1.3},
{"x":2008.168,"m1":6,"m2":-0.3,"m3":-7,"m4":6,"m5":-5,"m6":0.8,"m7":-12,"m8":0.8,"m9":-0.9},
{"x":2008.363,"m1":-7,"m2":0.2,"m3":9,"m4":-3,"m5":4,"m6":-1.8,"m7":7,"m8":-0.6,"m9":1.7},
{"x":2008.408,"m1":4,"m2":-0.5,"m3":-5,"m4":8,"m5":-3,"m6":1.4,"m7":-8,"m8":1.1,"m9":-1.8},
{"x":2008.563,"m1":-5,"m2":0.3,"m3":8,"m4":-7,"m5":5,"m6":-1.0,"m7":11,"m8":-0.5,"m9":1.0},
{"x":2008.708,"m1":8,"m2":-0.2,"m3":-9,"m4":5,"m5":-2,"m6":1.7,"m7":-6,"m8":0.7,"m9":-1.3},
{"x":2008.783,"m1":-2,"m2":0.4,"m3":4,"m4":-6,"m5":4,"m6":-1.4,"m7":8,"m8":-1.3,"m9":1.6},
{"x":2008.978,"m1":7,"m2":-0.3,"m3":-8,"m4":9,"m5":-5,"m6":1.0,"m7":-10,"m8":0.5,"m9":-1.5},
{"x":2009.053,"m1":-9,"m2":0.1,"m3":10,"m4":-4,"m5":3,"m6":-1.9,"m7":5,"m8":-0.8,"m9":1.2},
{"x":2009.218,"m1":5,"m2":-0.4,"m3":-6,"m4":7,"m5":-4,"m6":1.3,"m7":-9,"m8":0.9,"m9":-1.9},
{"x":2009.273,"m1":-6,"m2":0.3,"m3":7,"m4":-9,"m5":5,"m6":-0.7,"m7":12,"m8":-0.4,"m9":1.4},
{"x":2009.448,"m1":3,"m2":-0.2,"m3":-4,"m4":4,"m5":-3,"m6":1.8,"m7":-7,"m8":0.6,"m9":-0.8},
{"x":2009.543,"m1":-8,"m2":0.5,"m3":9,"m4":-7,"m5":4,"m6":-1.5,"m7":9,"m8":-1.1,"m9":1.8},
{"x":2009.738,"m1":9,"m2":-0.3,"m3":-10,"m4":8,"m5":-5,"m6":1.1,"m7":-5,"m8":1.3,"m9":-1.2},
{"x":2009.783,"m1":-4,"m2":0.2,"m3":6,"m4":-5,"m5":2,"m6":-1.2,"m7":10,"m8":-0.7,"m9":1.1},
{"x":2009.938,"m1":6,"m2":-0.4,"m3":-7,"m4":9,"m5":-4,"m6":1.6,"m7":-11,"m8":0.4,"m9":-1.6},
{"x":2010.083,"m1":-7,"m2":0.3,"m3":8,"m4":-6,"m5":5,"m6":-0.9,"m7":6,"m8":-0.9,"m9":1.9},
{"x":2010.158,"m1":4,"m2":-0.1,"m3":-5,"m4":6,"m5":-3,"m6":1.9,"m7":-8,"m8":1.0,"m9":-1.0},
{"x":2010.353,"m1":-5,"m2":0.4,"m3":10,"m4":-8,"m5":4,"m6":-1.4,"m7":11,"m8":-0.5,"m9":1.3},
{"x":2010.428,"m1":8,"m2":-0.2,"m3":-8,"m4":3,"m5":-5,"m6":0.8,"m7":-6,"m8":0.8,"m9":-1.7},
{"x":2010.593,"m1":-3,"m2":0.3,"m3":5,"m4":-9,"m5":3,"m6":-1.7,"m7":8,"m8":-1.2,"m9":1.5},
{"x":2010.648,"m1":7,"m2":-0.5,"m3":-9,"m4":7,"m5":-2,"m6":1.3,"m7":-12,"m8":0.6,"m9":-1.4},
{"x":2010.823,"m1":-9,"m2":0.2,"m3":7,"m4":-4,"m5":5,"m6":-1.0,"m7":7,"m8":-0.6,"m9":0.9},
{"x":2010.918,"m1":5,"m2":-0.3,"m3":-6,"m4":8,"m5":-4,"m6":1.7,"m7":-9,"m8":0.9,"m9":-1.9},
{"x":2011.113,"m1":-6,"m2":0.4,"m3":9,"m4":-7,"m5":4,"m6":-1.6,"m7":10,"m8":-0.3,"m9":1.6},
{"x":2011.158,"m1":2,"m2":-0.2,"m3":-4,"m4":5,"m5":-3,"m6":1.0,"m7":-5,"m8":0.5,"m9":-1.1},
{"x":2011.313,"m1":-8,"m2":0.3,"m3":8,"m4":-9,"m5":5,"m6":-1.9,"m7":12,"m8":-1.0,"m9":1.8},
{"x":2011.458,"m1":9,"m2":-0.4,"m3":-10,"m4":6,"m5":-5,"m6":1.5,"m7":-7,"m8":1.2,"m9":-1.3},
{"x":2011.533,"m1":-4,"m2":0.1,"m3":6,"m4":-5,"m5":2,"m6":-0.8,"m7":9,"m8":-0.7,"m9":1.0},
{"x":2011.728,"m1":6,"m2":-0.3,"m3":-7,"m4":9,"m5":-4,"m6":1.8,"m7":-10,"m8":0.4,"m9":-1.8},
{"x":2011.803,"m1":-7,"m2":0.5,"m3":10,"m4":-6,"m5":3,"m6":-1.2,"m7":6,"m8":-0.8,"m9":1.4},
{"x":2011.968,"m1":3,"m2":-0.2,"m3":-5,"m4":7,"m5":-5,"m6":1.1,"m7":-8,"m8":0.7,"m9":-1.6},
{"x":2012.023,"m1":-5,"m2":0.4,"m3":7,"m4":-8,"m5":4,"m6":-1.5,"m7":11,"m8":-1.1,"m9":1.9},
{"x":2012.198,"m1":8,"m2":-0.3,"m3":-9,"m4":4,"m5":-3,"m6":0.9,"m7":-6,"m8":0.5,"m9":-0.9},
{"x":2012.293,"m1":-9,"m2":0.2,"m3":5,"m4":-9,"m5":5,"m6":-1.8,"m7":8,"m8":-0.5,"m9":1.2},
{"x":2012.488,"m1":4,"m2":-0.4,"m3":-8,"m4":7,"m5":-4,"m6":1.4,"m7":-12,"m8":0.8,"m9":-1.7},
{"x":2012.533,"m1":-6,"m2":0.3,"m3":9,"m4":-5,"m5":3,"m6":-1.0,"m7":9,"m8":-0.6,"m9":1.6},
{"x":2012.688,"m1":7,"m2":-0.2,"m3":-6,"m4":8,"m5":-5,"m6":1.9,"m7":-5,"m8":1.1,"m9":-1.2},
{"x":2012.833,"m1":-3,"m2":0.5,"m3":8,"m4":-7,"m5":4,"m6":-1.3,"m7":10,"m8":-0.9,"m9":1.1},
{"x":2012.908,"m1":9,"m2":-0.3,"m3":-10,"m4":5,"m5":-2,"m6":1.6,"m7":-9,"m8":0.6,"m9":-1.9},
{"x":2013.103,"m1":-7,"m2":0.4,"m3":6,"m4":-9,"m5":5,"m6":-0.8,"m7":7,"m8":-0.4,"m9":1.5},
{"x":2013.178,"m1":5,"m2":-0.1,"m3":-4,"m4":6,"m5":-4,"m6":1.2,"m7":-11,"m8":0.7,"m9":-1.3},
{"x":2013.343,"m1":-8,"m2":0.6,"m3":9,"m4":-4,"m5":3,"m6":-1.7,"m7":12,"m8":-1.0,"m9":1.8},
{"x":2013.398,"m1":2,"m2":0.2,"m3":-7,"m4":8,"m5":-5,"m6":1.0,"m7":-6,"m8":0.5,"m9":-1.0},
{"x":2013.573,"m1":-5,"m2":0.7,"m3":10,"m4":-8,"m5":4,"m6":-1.9,"m7":8,"m8":-0.7,"m9":1.3},
{"x":2013.668,"m1":6,"m2":0.3,"m3":-5,"m4":7,"m5":-3,"m6":1.5,"m7":-10,"m8":0.9,"m9":-1.6},
{"x":2013.863,"m1":-9,"m2":0.8,"m3":7,"m4":-6,"m5":5,"m6":-1.1,"m7":9,"m8":-0.5,"m9":1.7},
{"x":2013.908,"m1":8,"m2":0.4,"m3":-9,"m4":9,"m5":-4,"m6":1.8,"m7":-7,"m8":0.6,"m9":-1.4},
{"x":2014.063,"m1":-4,"m2":0.7,"m3":5,"m4":-5,"m5":2,"m6":-1.4,"m7":11,"m8":-0.8,"m9":0.9},
{"x":2014.208,"m1":7,"m2":0.5,"m3":-8,"m4":4,"m5":-5,"m6":0.9,"m7":-8,"m8":1.0,"m9":-1.8},
{"x":2014.283,"m1":-6,"m2":0.9,"m3":9,"m4":-9,"m5":4,"m6":-1.6,"m7":6,"m8":-0.4,"m9":1.2},
{"x":2014.478,"m1":3,"m2":0.3,"m3":-6,"m4":7,"m5":-3,"m6":1.3,"m7":-12,"m8":0.7,"m9":-1.5},
{"x":2014.553,"m1":-8,"m2":0.6,"m3":8,"m4":-7,"m5":5,"m6":-1.0,"m7":10,"m8":-0.6,"m9":1.9},
{"x":2014.718,"m1":9,"m2":-0.2,"m3":-10,"m4":6,"m5":-4,"m6":1.7,"m7":-5,"m8":0.4,"m9":-1.1},
{"x":2014.773,"m1":-5,"m2":0.3,"m3":6,"m4":-8,"m5":3,"m6":-1.5,"m7":9,"m8":-0.9,"m9":1.4},
{"x":2014.948,"m1":4,"m2":-0.4,"m3":-7,"m4":9,"m5":-5,"m6":1.2,"m7":-9,"m8":0.5,"m9":-1.7},
{"x":2015.043,"m1":-7,"m2":0.2,"m3":10,"m4":-4,"m5":4,"m6":-1.8,"m7":7,"m8":-0.3,"m9":1.0},
{"x":2015.238,"m1":6,"m2":-0.3,"m3":-5,"m4":8,"m5":-2,"m6":0.8,"m7":-11,"m8":0.6,"m9":-1.3},
{"x":2015.283,"m1":-3,"m2":0.4,"m3":7,"m4":-9,"m5":5,"m6":-1.3,"m7":12,"m8":-0.5,"m9":1.6},
{"x":2015.438,"m1":8,"m2":-0.2,"m3":-9,"m4":5,"m5":-4,"m6":1.9,"m7":-6,"m8":0.3,"m9":-1.9},
{"x":2015.583,"m1":-9,"m2":0.3,"m3":5,"m4":-6,"m5":3,"m6":-1.1,"m7":8,"m8":-0.6,"m9":1.3},
{"x":2015.658,"m1":5,"m2":-0.5,"m3":-8,"m4":7,"m5":-5,"m6":1.5,"m7":-10,"m8":0.5,"m9":-1.0},
{"x":2015.853,"m1":-6,"m2":0.2,"m3":9,"m4":-7,"m5":4,"m6":-0.9,"m7":9,"m8":-0.4,"m9":1.8},
{"x":2015.928,"m1":7,"m2":-0.3,"m3":-6,"m4":4,"m5":-3,"m6":1.6,"m7":-7,"m8":0.6,"m9":-1.5},
{"x":2016.093,"m1":-4,"m2":0.4,"m3":8,"m4":-9,"m5":5,"m6":-1.7,"m7":11,"m8":-0.5,"m9":1.1},
{"x":2016.148,"m1":9,"m2":-0.2,"m3":-10,"m4":8,"m5":-4,"m6":1.0,"m7":-8,"m8":0.4,"m9":-1.7},
{"x":2016.323,"m1":-7,"m2":0.3,"m3":6,"m4":-5,"m5":2,"m6":-1.4,"m7":6,"m8":-0.7,"m9":1.5},
{"x":2016.418,"m1":3,"m2":-0.4,"m3":-7,"m4":9,"m5":-5,"m6":1.8,"m7":-12,"m8":0.5,"m9":-1.2},
{"x":2016.613,"m1":-8,"m2":0.2,"m3":9,"m4":-6,"m5":4,"m6":-1.2,"m7":10,"m8":-0.3,"m9":1.9},
{"x":2016.658,"m1":6,"m2":-0.3,"m3":-4,"m4":7,"m5":-3,"m6":0.9,"m7":-5,"m8":0.6,"m9":-1.0},
{"x":2016.813,"m1":-5,"m2":0.4,"m3":8,"m4":-8,"m5":5,"m6":-1.6,"m7":8,"m8":-0.5,"m9":1.4},
{"x":2016.958,"m1":8,"m2":-0.2,"m3":-9,"m4":5,"m5":-4,"m6":1.4,"m7":-10,"m8":0.4,"m9":-1.8},
{"x":2017.033,"m1":-2,"m2":0.3,"m3":5,"m4":-9,"m5":3,"m6":-1.9,"m7":7,"m8":-0.6,"m9":1.2},
{"x":2017.228,"m1":7,"m2":-0.4,"m3":-8,"m4":6,"m5":-5,"m6":1.1,"m7":-9,"m8":0.5,"m9":-1.5},
{"x":2017.303,"m1":-9,"m2":0.2,"m3":10,"m4":-4,"m5":4,"m6":-1.0,"m7":12,"m8":-0.4,"m9":1.7},
{"x":2017.468,"m1":4,"m2":-0.3,"m3":-6,"m4":8,"m5":-2,"m6":1.7,"m7":-6,"m8":0.7,"m9":-1.1},
{"x":2017.523,"m1":-6,"m2":0.5,"m3":7,"m4":-7,"m5":5,"m6":-1.5,"m7":9,"m8":-0.5,"m9":1.6},
{"x":2017.698,"m1":9,"m2":-0.2,"m3":-9,"m4":9,"m5":-4,"m6":1.2,"m7":-11,"m8":0.4,"m9":-1.9},
{"x":2017.793,"m1":-3,"m2":0.3,"m3":6,"m4":-5,"m5":3,"m6":-0.8,"m7":6,"m8":-0.6,"m9":1.0},
{"x":2017.988,"m1":5,"m2":-0.4,"m3":-7,"m4":7,"m5":-5,"m6":1.9,"m7":-8,"m8":0.8,"m9":-1.4},
{"x":2018.033,"m1":-8,"m2":0.2,"m3":9,"m4":-9,"m5":4,"m6":-1.3,"m7":10,"m8":-0.3,"m9":1.8},
{"x":2018.188,"m1":6,"m2":-0.3,"m3":-5,"m4":4,"m5":-3,"m6":1.0,"m7":-7,"m8":0.5,"m9":-1.2},
{"x":2018.333,"m1":-7,"m2":0.4,"m3":8,"m4":-8,"m5":5,"m6":-1.8,"m7":11,"m8":-0.7,"m9":1.3},
{"x":2018.408,"m1":3,"m2":-0.2,"m3":-10,"m4":6,"m5":-4,"m6":1.5,"m7":-12,"m8":0.4,"m9":-1.7},
{"x":2018.603,"m1":-5,"m2":0.3,"m3":5,"m4":-7,"m5":2,"m6":-1.1,"m7":8,"m8":-0.5,"m9":1.5},
{"x":2018.678,"m1":8,"m2":-0.5,"m3":-8,"m4":9,"m5":-5,"m6":1.6,"m7":-6,"m8":0.6,"m9":-0.9},
{"x":2018.843,"m1":-9,"m2":0.2,"m3":7,"m4":-4,"m5":4,"m6":-1.4,"m7":9,"m8":-0.4,"m9":1.9},
{"x":2018.898,"m1":4,"m2":-0.3,"m3":-6,"m4":8,"m5":-3,"m6":0.8,"m7":-10,"m8":0.5,"m9":-1.6},
{"x":2019.073,"m1":-6,"m2":0.4,"m3":9,"m4":-6,"m5":5,"m6":-1.7,"m7":7,"m8":-0.7,"m9":1.1},
{"x":2019.168,"m1":7,"m2":-0.2,"m3":-4,"m4":5,"m5":-4,"m6":1.3,"m7":-9,"m8":0.3,"m9":-1.5},
{"x":2019.363,"m1":-4,"m2":0.3,"m3":8,"m4":-9,"m5":3,"m6":-1.0,"m7":12,"m8":-0.5,"m9":1.4},
{"x":2019.408,"m1":9,"m2":-0.4,"m3":-9,"m4":7,"m5":-5,"m6":1.9,"m7":-5,"m8":0.6,"m9":-1.8},
{"x":2019.563,"m1":-7,"m2":0.2,"m3":6,"m4":-5,"m5":4,"m6":-1.2,"m7":8,"m8":-0.4,"m9":1.2},
{"x":2019.708,"m1":5,"m2":-0.1,"m3":-7,"m4":8,"m5":-2,"m6":1.5,"m7":-9,"m8":0.3,"m9":-1.0}
]
},
"columns": 3,
"spacing": {"row": 43.6, "column": 67.2},
"bounds": "flush",
"concat": [
{"title": "PSR J0030+0451", "width": 213, "height": 112, "resolve": {"axis": {"x": "independent", "y": "independent"}},
 "layer": [
  {"data": {"name": "noise"}, "mark": {"type": "line", "color": "#a0a0a0", "strokeWidth": 0.6, "clip": true}, "encoding": {"x": {"field": "x", "type": "quantitative", "scale": {"domain": [2004.5, 2019.73], "nice": false, "zero": false}, "axis": {"values": [2006, 2008, 2010, 2012, 2014, 2016, 2018], "format": "d", "title": "years"}}, "y": {"field": "n1", "type": "quantitative", "scale": {"domain": [-4.5, 4.5], "nice": false, "zero": false}, "axis": {"values": [-4, -2, 0, 2, 4], "format": "~g", "title": "timing residuals (sec)"}}}},
  {"data": {"name": "noise2"}, "mark": {"type": "line", "color": "#a0a0a0", "strokeWidth": 0.6, "clip": true}, "encoding": {"x": {"field": "x", "type": "quantitative", "axis": null}, "y": {"field": "m1", "type": "quantitative", "axis": null}}},
  {"data": {"name": "sin"}, "mark": {"type": "line", "color": "#000", "strokeWidth": 1.1, "interpolate": "natural", "clip": true}, "encoding": {"x": {"field": "x", "type": "quantitative", "axis": null}, "y": {"field": "s1", "type": "quantitative", "axis": null}}},
  {"data": {"name": "sin"}, "mark": {"type": "line", "color": "#000", "strokeWidth": 1.3, "strokeDash": [5, 3], "interpolate": "natural", "clip": true}, "encoding": {"x": {"field": "x", "type": "quantitative", "axis": null}, "y": {"field": "d1", "type": "quantitative", "axis": null}}},
  {"data": {"name": "noise"}, "mark": {"type": "line", "opacity": 0, "clip": true}, "encoding": {"x": {"field": "x", "type": "quantitative", "axis": {"orient": "top", "title": "x 10⁻⁷", "titleAnchor": "start", "titlePadding": 2, "titleFontSize": 7.5, "labels": false, "ticks": true, "grid": false, "values": [2006, 2008, 2010, 2012, 2014, 2016, 2018]}}, "y": {"field": "n1", "type": "quantitative", "axis": {"orient": "right", "title": null, "labels": false, "ticks": true, "grid": false, "values": [-4, -2, 0, 2, 4]}}}}
 ]},
{"title": "PSR J0437−4715", "width": 213, "height": 112, "resolve": {"axis": {"x": "independent", "y": "independent"}},
 "layer": [
  {"data": {"name": "noise"}, "mark": {"type": "line", "color": "#a0a0a0", "strokeWidth": 0.6, "clip": true}, "encoding": {"x": {"field": "x", "type": "quantitative", "scale": {"domain": [2004.5, 2019.73], "nice": false, "zero": false}, "axis": {"values": [2006, 2008, 2010, 2012, 2014, 2016, 2018], "format": "d", "title": "years"}}, "y": {"field": "n2", "type": "quantitative", "scale": {"domain": [-1.12, 1.12], "nice": false, "zero": false}, "axis": {"values": [-1, -0.5, 0, 0.5, 1], "format": "~g", "title": "timing residuals (sec)"}}}},
  {"data": {"name": "noise2"}, "mark": {"type": "line", "color": "#a0a0a0", "strokeWidth": 0.6, "clip": true}, "encoding": {"x": {"field": "x", "type": "quantitative", "axis": null}, "y": {"field": "m2", "type": "quantitative", "axis": null}}},
  {"data": {"name": "sin"}, "mark": {"type": "line", "color": "#000", "strokeWidth": 1.1, "interpolate": "natural", "clip": true}, "encoding": {"x": {"field": "x", "type": "quantitative", "axis": null}, "y": {"field": "s2", "type": "quantitative", "axis": null}}},
  {"data": {"name": "sin"}, "mark": {"type": "line", "color": "#000", "strokeWidth": 1.3, "strokeDash": [5, 3], "interpolate": "natural", "clip": true}, "encoding": {"x": {"field": "x", "type": "quantitative", "axis": null}, "y": {"field": "d2", "type": "quantitative", "axis": null}}},
  {"data": {"name": "noise"}, "mark": {"type": "line", "opacity": 0, "clip": true}, "encoding": {"x": {"field": "x", "type": "quantitative", "axis": {"orient": "top", "title": "x 10⁻⁷", "titleAnchor": "start", "titlePadding": 2, "titleFontSize": 7.5, "labels": false, "ticks": true, "grid": false, "values": [2006, 2008, 2010, 2012, 2014, 2016, 2018]}}, "y": {"field": "n2", "type": "quantitative", "axis": {"orient": "right", "title": null, "labels": false, "ticks": true, "grid": false, "values": [-1, -0.5, 0, 0.5, 1]}}}}
 ]},
{"title": "PSR J1640+2224", "width": 213, "height": 112, "resolve": {"axis": {"x": "independent", "y": "independent"}},
 "layer": [
  {"data": {"name": "noise"}, "mark": {"type": "line", "color": "#a0a0a0", "strokeWidth": 0.6, "clip": true}, "encoding": {"x": {"field": "x", "type": "quantitative", "scale": {"domain": [2004.5, 2019.73], "nice": false, "zero": false}, "axis": {"values": [2006, 2008, 2010, 2012, 2014, 2016, 2018], "format": "d", "title": "years"}}, "y": {"field": "n3", "type": "quantitative", "scale": {"domain": [-5.4, 5.4], "nice": false, "zero": false}, "axis": {"values": [-5, 0, 5], "format": "~g", "title": "timing residuals (sec)"}}}},
  {"data": {"name": "noise2"}, "mark": {"type": "line", "color": "#a0a0a0", "strokeWidth": 0.6, "clip": true}, "encoding": {"x": {"field": "x", "type": "quantitative", "axis": null}, "y": {"field": "m3", "type": "quantitative", "axis": null}}},
  {"data": {"name": "sin"}, "mark": {"type": "line", "color": "#000", "strokeWidth": 1.1, "interpolate": "natural", "clip": true}, "encoding": {"x": {"field": "x", "type": "quantitative", "axis": null}, "y": {"field": "s3", "type": "quantitative", "axis": null}}},
  {"data": {"name": "sin"}, "mark": {"type": "line", "color": "#000", "strokeWidth": 1.3, "strokeDash": [5, 3], "interpolate": "natural", "clip": true}, "encoding": {"x": {"field": "x", "type": "quantitative", "axis": null}, "y": {"field": "d3", "type": "quantitative", "axis": null}}},
  {"data": {"name": "noise"}, "mark": {"type": "line", "opacity": 0, "clip": true}, "encoding": {"x": {"field": "x", "type": "quantitative", "axis": {"orient": "top", "title": "x 10⁻⁸", "titleAnchor": "start", "titlePadding": 2, "titleFontSize": 7.5, "labels": false, "ticks": true, "grid": false, "values": [2006, 2008, 2010, 2012, 2014, 2016, 2018]}}, "y": {"field": "n3", "type": "quantitative", "axis": {"orient": "right", "title": null, "labels": false, "ticks": true, "grid": false, "values": [-5, 0, 5]}}}}
 ]},
{"title": "PSR J1713+0747", "width": 213, "height": 112, "resolve": {"axis": {"x": "independent", "y": "independent"}},
 "layer": [
  {"data": {"name": "noise"}, "mark": {"type": "line", "color": "#a0a0a0", "strokeWidth": 0.6, "clip": true}, "encoding": {"x": {"field": "x", "type": "quantitative", "scale": {"domain": [2004.5, 2019.73], "nice": false, "zero": false}, "axis": {"values": [2006, 2008, 2010, 2012, 2014, 2016, 2018], "format": "d", "title": "years"}}, "y": {"field": "n4", "type": "quantitative", "scale": {"domain": [-5.4, 5.4], "nice": false, "zero": false}, "axis": {"values": [-5, 0, 5], "format": "~g", "title": "timing residuals (sec)"}}}},
  {"data": {"name": "noise2"}, "mark": {"type": "line", "color": "#a0a0a0", "strokeWidth": 0.6, "clip": true}, "encoding": {"x": {"field": "x", "type": "quantitative", "axis": null}, "y": {"field": "m4", "type": "quantitative", "axis": null}}},
  {"data": {"name": "sin"}, "mark": {"type": "line", "color": "#000", "strokeWidth": 1.1, "interpolate": "natural", "clip": true}, "encoding": {"x": {"field": "x", "type": "quantitative", "axis": null}, "y": {"field": "s4", "type": "quantitative", "axis": null}}},
  {"data": {"name": "sin"}, "mark": {"type": "line", "color": "#000", "strokeWidth": 1.3, "strokeDash": [5, 3], "interpolate": "natural", "clip": true}, "encoding": {"x": {"field": "x", "type": "quantitative", "axis": null}, "y": {"field": "d4", "type": "quantitative", "axis": null}}},
  {"data": {"name": "noise"}, "mark": {"type": "line", "opacity": 0, "clip": true}, "encoding": {"x": {"field": "x", "type": "quantitative", "axis": {"orient": "top", "title": "x 10⁻⁸", "titleAnchor": "start", "titlePadding": 2, "titleFontSize": 7.5, "labels": false, "ticks": true, "grid": false, "values": [2006, 2008, 2010, 2012, 2014, 2016, 2018]}}, "y": {"field": "n4", "type": "quantitative", "axis": {"orient": "right", "title": null, "labels": false, "ticks": true, "grid": false, "values": [-5, 0, 5]}}}}
 ]},
{"title": "PSR J1744−1134", "width": 213, "height": 112, "resolve": {"axis": {"x": "independent", "y": "independent"}},
 "layer": [
  {"data": {"name": "noise"}, "mark": {"type": "line", "color": "#a0a0a0", "strokeWidth": 0.6, "clip": true}, "encoding": {"x": {"field": "x", "type": "quantitative", "scale": {"domain": [2004.5, 2019.73], "nice": false, "zero": false}, "axis": {"values": [2006, 2008, 2010, 2012, 2014, 2016, 2018], "format": "d", "title": "years"}}, "y": {"field": "n5", "type": "quantitative", "scale": {"domain": [-2.65, 2.65], "nice": false, "zero": false}, "axis": {"values": [-2, -1, 0, 1, 2], "format": "~g", "title": "timing residuals (sec)"}}}},
  {"data": {"name": "noise2"}, "mark": {"type": "line", "color": "#a0a0a0", "strokeWidth": 0.6, "clip": true}, "encoding": {"x": {"field": "x", "type": "quantitative", "axis": null}, "y": {"field": "m5", "type": "quantitative", "axis": null}}},
  {"data": {"name": "sin"}, "mark": {"type": "line", "color": "#000", "strokeWidth": 1.1, "interpolate": "natural", "clip": true}, "encoding": {"x": {"field": "x", "type": "quantitative", "axis": null}, "y": {"field": "s5", "type": "quantitative", "axis": null}}},
  {"data": {"name": "sin"}, "mark": {"type": "line", "color": "#000", "strokeWidth": 1.3, "strokeDash": [5, 3], "interpolate": "natural", "clip": true}, "encoding": {"x": {"field": "x", "type": "quantitative", "axis": null}, "y": {"field": "d5", "type": "quantitative", "axis": null}}},
  {"data": {"name": "noise"}, "mark": {"type": "line", "opacity": 0, "clip": true}, "encoding": {"x": {"field": "x", "type": "quantitative", "axis": {"orient": "top", "title": "x 10⁻⁸", "titleAnchor": "start", "titlePadding": 2, "titleFontSize": 7.5, "labels": false, "ticks": true, "grid": false, "values": [2006, 2008, 2010, 2012, 2014, 2016, 2018]}}, "y": {"field": "n5", "type": "quantitative", "axis": {"orient": "right", "title": null, "labels": false, "ticks": true, "grid": false, "values": [-2, -1, 0, 1, 2]}}}}
 ]},
{"title": "PSR J1857+0943", "width": 213, "height": 112, "resolve": {"axis": {"x": "independent", "y": "independent"}},
 "layer": [
  {"data": {"name": "noise"}, "mark": {"type": "line", "color": "#a0a0a0", "strokeWidth": 0.6, "clip": true}, "encoding": {"x": {"field": "x", "type": "quantitative", "scale": {"domain": [2004.5, 2019.73], "nice": false, "zero": false}, "axis": {"values": [2006, 2008, 2010, 2012, 2014, 2016, 2018], "format": "d", "title": "years"}}, "y": {"field": "n6", "type": "quantitative", "scale": {"domain": [-1.1, 1.1], "nice": false, "zero": false}, "axis": {"values": [-1, -0.5, 0, 0.5, 1], "format": "~g", "title": "timing residuals (sec)"}}}},
  {"data": {"name": "noise2"}, "mark": {"type": "line", "color": "#a0a0a0", "strokeWidth": 0.6, "clip": true}, "encoding": {"x": {"field": "x", "type": "quantitative", "axis": null}, "y": {"field": "m6", "type": "quantitative", "axis": null}}},
  {"data": {"name": "sin"}, "mark": {"type": "line", "color": "#000", "strokeWidth": 1.1, "interpolate": "natural", "clip": true}, "encoding": {"x": {"field": "x", "type": "quantitative", "axis": null}, "y": {"field": "s6", "type": "quantitative", "axis": null}}},
  {"data": {"name": "sin"}, "mark": {"type": "line", "color": "#000", "strokeWidth": 1.3, "strokeDash": [5, 3], "interpolate": "natural", "clip": true}, "encoding": {"x": {"field": "x", "type": "quantitative", "axis": null}, "y": {"field": "d6", "type": "quantitative", "axis": null}}},
  {"data": {"name": "noise"}, "mark": {"type": "line", "opacity": 0, "clip": true}, "encoding": {"x": {"field": "x", "type": "quantitative", "axis": {"orient": "top", "title": "x 10⁻⁷", "titleAnchor": "start", "titlePadding": 2, "titleFontSize": 7.5, "labels": false, "ticks": true, "grid": false, "values": [2006, 2008, 2010, 2012, 2014, 2016, 2018]}}, "y": {"field": "n6", "type": "quantitative", "axis": {"orient": "right", "title": null, "labels": false, "ticks": true, "grid": false, "values": [-1, -0.5, 0, 0.5, 1]}}}}
 ]},
{"title": "PSR J1909−3744", "width": 213, "height": 112, "resolve": {"axis": {"x": "independent", "y": "independent"}},
 "layer": [
  {"data": {"name": "noise"}, "mark": {"type": "line", "color": "#a0a0a0", "strokeWidth": 0.6, "clip": true}, "encoding": {"x": {"field": "x", "type": "quantitative", "scale": {"domain": [2004.5, 2019.73], "nice": false, "zero": false}, "axis": {"values": [2006, 2008, 2010, 2012, 2014, 2016, 2018], "format": "d", "title": "years"}}, "y": {"field": "n7", "type": "quantitative", "scale": {"domain": [-7, 7], "nice": false, "zero": false}, "axis": {"values": [-6, -4, -2, 0, 2, 4, 6], "format": "~g", "title": "timing residuals (sec)"}}}},
  {"data": {"name": "noise2"}, "mark": {"type": "line", "color": "#a0a0a0", "strokeWidth": 0.6, "clip": true}, "encoding": {"x": {"field": "x", "type": "quantitative", "axis": null}, "y": {"field": "m7", "type": "quantitative", "axis": null}}},
  {"data": {"name": "sin"}, "mark": {"type": "line", "color": "#000", "strokeWidth": 1.1, "interpolate": "natural", "clip": true}, "encoding": {"x": {"field": "x", "type": "quantitative", "axis": null}, "y": {"field": "s7", "type": "quantitative", "axis": null}}},
  {"data": {"name": "sin"}, "mark": {"type": "line", "color": "#000", "strokeWidth": 1.3, "strokeDash": [5, 3], "interpolate": "natural", "clip": true}, "encoding": {"x": {"field": "x", "type": "quantitative", "axis": null}, "y": {"field": "d7", "type": "quantitative", "axis": null}}},
  {"data": {"name": "noise"}, "mark": {"type": "line", "opacity": 0, "clip": true}, "encoding": {"x": {"field": "x", "type": "quantitative", "axis": {"orient": "top", "title": "x 10⁻⁸", "titleAnchor": "start", "titlePadding": 2, "titleFontSize": 7.5, "labels": false, "ticks": true, "grid": false, "values": [2006, 2008, 2010, 2012, 2014, 2016, 2018]}}, "y": {"field": "n7", "type": "quantitative", "axis": {"orient": "right", "title": null, "labels": false, "ticks": true, "grid": false, "values": [-6, -4, -2, 0, 2, 4, 6]}}}}
 ]},
{"title": "PSR J1939+2134", "width": 213, "height": 112, "resolve": {"axis": {"x": "independent", "y": "independent"}},
 "layer": [
  {"data": {"name": "noise"}, "mark": {"type": "line", "color": "#a0a0a0", "strokeWidth": 0.6, "clip": true}, "encoding": {"x": {"field": "x", "type": "quantitative", "scale": {"domain": [2004.5, 2019.73], "nice": false, "zero": false}, "axis": {"values": [2006, 2008, 2010, 2012, 2014, 2016, 2018], "format": "d", "title": "years"}}, "y": {"field": "n8", "type": "quantitative", "scale": {"domain": [-2.15, 2.15], "nice": false, "zero": false}, "axis": {"values": [-2, -1, 0, 1, 2], "format": "~g", "title": "timing residuals (sec)"}}}},
  {"data": {"name": "noise2"}, "mark": {"type": "line", "color": "#a0a0a0", "strokeWidth": 0.6, "clip": true}, "encoding": {"x": {"field": "x", "type": "quantitative", "axis": null}, "y": {"field": "m8", "type": "quantitative", "axis": null}}},
  {"data": {"name": "sin"}, "mark": {"type": "line", "color": "#000", "strokeWidth": 1.1, "interpolate": "natural", "clip": true}, "encoding": {"x": {"field": "x", "type": "quantitative", "axis": null}, "y": {"field": "s8", "type": "quantitative", "axis": null}}},
  {"data": {"name": "sin"}, "mark": {"type": "line", "color": "#000", "strokeWidth": 1.3, "strokeDash": [5, 3], "interpolate": "natural", "clip": true}, "encoding": {"x": {"field": "x", "type": "quantitative", "axis": null}, "y": {"field": "d8", "type": "quantitative", "axis": null}}},
  {"data": {"name": "noise"}, "mark": {"type": "line", "opacity": 0, "clip": true}, "encoding": {"x": {"field": "x", "type": "quantitative", "axis": {"orient": "top", "title": "x 10⁻⁷", "titleAnchor": "start", "titlePadding": 2, "titleFontSize": 7.5, "labels": false, "ticks": true, "grid": false, "values": [2006, 2008, 2010, 2012, 2014, 2016, 2018]}}, "y": {"field": "n8", "type": "quantitative", "axis": {"orient": "right", "title": null, "labels": false, "ticks": true, "grid": false, "values": [-2, -1, 0, 1, 2]}}}}
 ]},
{"title": "PSR J2317+1439", "width": 213, "height": 112, "resolve": {"axis": {"x": "independent", "y": "independent"}},
 "layer": [
  {"data": {"name": "noise"}, "mark": {"type": "line", "color": "#a0a0a0", "strokeWidth": 0.6, "clip": true}, "encoding": {"x": {"field": "x", "type": "quantitative", "scale": {"domain": [2004.5, 2019.73], "nice": false, "zero": false}, "axis": {"values": [2006, 2008, 2010, 2012, 2014, 2016, 2018], "format": "d", "title": "years"}}, "y": {"field": "n9", "type": "quantitative", "scale": {"domain": [-1.08, 1.08], "nice": false, "zero": false}, "axis": {"values": [-1, -0.5, 0, 0.5, 1], "format": "~g", "title": "timing residuals (sec)"}}}},
  {"data": {"name": "noise2"}, "mark": {"type": "line", "color": "#a0a0a0", "strokeWidth": 0.6, "clip": true}, "encoding": {"x": {"field": "x", "type": "quantitative", "axis": null}, "y": {"field": "m9", "type": "quantitative", "axis": null}}},
  {"data": {"name": "sin"}, "mark": {"type": "line", "color": "#000", "strokeWidth": 1.1, "interpolate": "natural", "clip": true}, "encoding": {"x": {"field": "x", "type": "quantitative", "axis": null}, "y": {"field": "s9", "type": "quantitative", "axis": null}}},
  {"data": {"name": "sin"}, "mark": {"type": "line", "color": "#000", "strokeWidth": 1.3, "strokeDash": [5, 3], "interpolate": "natural", "clip": true}, "encoding": {"x": {"field": "x", "type": "quantitative", "axis": null}, "y": {"field": "d9", "type": "quantitative", "axis": null}}},
  {"data": {"name": "noise"}, "mark": {"type": "line", "opacity": 0, "clip": true}, "encoding": {"x": {"field": "x", "type": "quantitative", "axis": {"orient": "top", "title": "x 10⁻⁷", "titleAnchor": "start", "titlePadding": 2, "titleFontSize": 7.5, "labels": false, "ticks": true, "grid": false, "values": [2006, 2008, 2010, 2012, 2014, 2016, 2018]}}, "y": {"field": "n9", "type": "quantitative", "axis": {"orient": "right", "title": null, "labels": false, "ticks": true, "grid": false, "values": [-1, -0.5, 0, 0.5, 1]}}}}
 ]}
]
}
